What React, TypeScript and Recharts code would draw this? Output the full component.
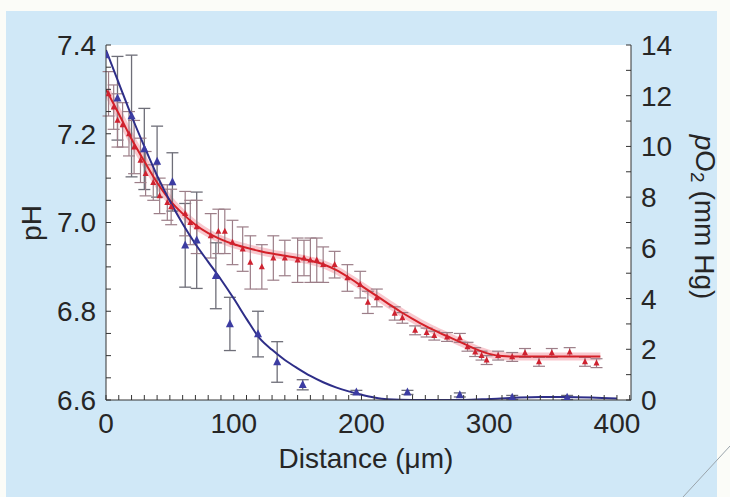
import React from 'react';
import {
  ComposedChart,
  Line,
  Scatter,
  XAxis,
  YAxis,
  CartesianGrid,
  ErrorBar,
} from 'recharts';

const FONT = '"Liberation Sans", Arial, Helvetica, sans-serif';

// measured pH (left axis), distance in µm
const phX = [2, 6, 9, 13, 18, 22, 27, 31, 37, 42, 48, 51, 62, 66, 71, 82, 88, 93, 99, 107, 113, 122, 131, 140, 150, 155, 160, 165, 170, 179, 189, 199, 205, 212, 226, 232, 242, 251, 257, 267, 277, 283, 289, 294, 298, 307, 318, 328, 339, 349, 363, 375, 384];
const phY = [7.29, 7.26, 7.23, 7.22, 7.2, 7.17, 7.14, 7.11, 7.09, 7.06, 7.045, 7.035, 7.02, 7.0, 6.99, 6.97, 6.98, 6.98, 6.955, 6.94, 6.91, 6.9, 6.92, 6.92, 6.915, 6.92, 6.915, 6.915, 6.905, 6.905, 6.875, 6.86, 6.82, 6.83, 6.795, 6.785, 6.757, 6.752, 6.745, 6.742, 6.74, 6.72, 6.708, 6.7, 6.69, 6.7, 6.697, 6.706, 6.686, 6.706, 6.708, 6.686, 6.683];
const phErr = [0.05, 0.05, 0.06, 0.05, 0.05, 0.06, 0.05, 0.05, 0.04, 0.04, 0.04, 0.04, 0.05, 0.05, 0.06, 0.05, 0.05, 0.05, 0.05, 0.05, 0.06, 0.05, 0.05, 0.04, 0.05, 0.04, 0.05, 0.05, 0.04, 0.03, 0.03, 0.03, 0.025, 0.02, 0.015, 0.012, 0.01, 0.01, 0.01, 0.01, 0.01, 0.01, 0.01, 0.01, 0.01, 0.01, 0.01, 0.01, 0.01, 0.01, 0.01, 0.01, 0.01];

// fitted pH curve
const phFitX = [0, 10, 20, 30, 40, 50, 60, 70, 80, 90, 100, 110, 120, 130, 140, 150, 160, 170, 180, 190, 200, 210, 220, 230, 240, 250, 260, 270, 280, 290, 300, 310, 320, 340, 360, 387];
const phFitY = [7.3, 7.245, 7.188, 7.138, 7.09, 7.05, 7.02, 6.995, 6.976, 6.962, 6.951, 6.943, 6.936, 6.93, 6.925, 6.92, 6.914, 6.906, 6.893, 6.876, 6.857, 6.838, 6.819, 6.8, 6.783, 6.767, 6.753, 6.74, 6.727, 6.714, 6.704, 6.699, 6.698, 6.698, 6.698, 6.698];

// measured pO2 (right axis, mm Hg)
const poX = [0, 9, 20, 30, 40, 52, 62, 71, 86, 97, 119, 134, 154, 196, 236, 277, 318, 361];
const poY = [13.6, 11.9, 11.2, 9.9, 9.4, 8.6, 6.1, 6.3, 4.9, 3.0, 2.6, 1.5, 0.6, 0.3, 0.3, 0.2, 0.1, 0.1];
const poErr = [0, 1.65, 2.4, 1.6, 1.4, 1.15, 1.65, 1.9, 1.3, 1.05, 0.9, 0.8, 0.2, 0.08, 0.08, 0.08, 0.08, 0.08];

// fitted pO2 curve
const poFitX = [0, 10, 20, 30, 40, 50, 60, 70, 80, 90, 100, 110, 120, 130, 140, 150, 160, 170, 180, 190, 200, 210, 220, 240, 260, 280, 300, 320, 340, 360, 380, 400];
const poFitY = [13.8, 12.5, 11.2, 10.0, 8.85, 7.85, 6.95, 6.15, 5.45, 4.75, 4.0, 3.2, 2.45, 1.98, 1.58, 1.25, 0.95, 0.7, 0.5, 0.34, 0.21, 0.1, 0.03, 0, 0, 0, 0.04, 0.09, 0.12, 0.12, 0.1, 0.06];

// ticks
const xTicks = [0, 10, 20, 30, 40, 50, 60, 70, 80, 90, 100, 110, 120, 130, 140, 150, 160, 170, 180, 190, 200, 210, 220, 230, 240, 250, 260, 270, 280, 290, 300, 310, 320, 330, 340, 350, 360, 370, 380, 390, 400, 410];
const xLabels = [0, 100, 200, 300, 400];
const phTicks = [6.6, 6.65, 6.7, 6.75, 6.8, 6.85, 6.9, 6.95, 7.0, 7.05, 7.1, 7.15, 7.2, 7.25, 7.3, 7.35, 7.4];
const phLabels = [6.6, 6.8, 7.0, 7.2, 7.4];
const poTicks = [0, 1, 2, 3, 4, 5, 6, 7, 8, 9, 10, 11, 12, 13, 14];
const poLabels = [0, 2, 4, 6, 8, 10, 12, 14];

const phPoints = phX.map((x, i) => ({ x, y: phY[i], err: phErr[i] }));
const phFit = phFitX.map((x, i) => ({ x, y: phFitY[i] }));
const poPoints = poX.map((x, i) => ({ x, y: poY[i], err: poErr[i] }));
const poFit = poFitX.map((x, i) => ({ x, y: poFitY[i] }));

const isLabel = (list: number[], v: number) => list.some((l) => Math.abs(l - v) < 1e-6);

const tickStyle = { fontSize: 28, fill: '#262626', fontFamily: FONT };
const axisStroke = '#333';

// small filled triangle marker
const triangle = (color: string, s: number) => (props: any) => {
  const { cx, cy } = props;
  if (cx == null || cy == null) return <g />;
  return (
    <path
      d={`M${cx},${cy - s * 0.6}L${cx + s / 2},${cy + s * 0.4}L${cx - s / 2},${cy + s * 0.4}Z`}
      fill={color}
    />
  );
};

export default function App() {
  return (
    <div
      style={{
        position: 'absolute',
        left: 0,
        top: 0,
        width: 730,
        height: 497,
        background: '#fbfcf8',
        overflow: 'hidden',
      }}
    >
      <div style={{ position: 'absolute', left: 6, top: 11, width: 711, height: 486, background: '#d0e8f7' }} />
      <div style={{ position: 'absolute', left: 0, top: 0 }}>
        <ComposedChart width={730} height={497} margin={{ top: 45, right: 0, bottom: 37, left: 0 }}>
          <CartesianGrid xAxisId="b" yAxisId="ph" horizontal={false} vertical={false} fill="#ffffff" stroke="none" />
          <XAxis
            xAxisId="b"
            type="number"
            dataKey="x"
            domain={[0, 411]}
            ticks={xTicks}
            interval={0}
            allowDataOverflow
            height={60}
            tickSize={-5}
            tickMargin={18}
            tickFormatter={(v: number) => (isLabel(xLabels, v) ? String(v) : '')}
            tick={tickStyle}
            stroke={axisStroke}
          />
          <XAxis
            xAxisId="t"
            orientation="top"
            type="number"
            dataKey="x"
            domain={[0, 411]}
            ticks={xTicks}
            interval={0}
            allowDataOverflow
            height={0}
            tickSize={-5}
            tick={false}
            stroke={axisStroke}
          />
          <YAxis
            yAxisId="ph"
            type="number"
            domain={[6.6, 7.4]}
            ticks={phTicks}
            interval={0}
            allowDataOverflow
            width={106}
            tickSize={-5}
            tickMargin={15}
            tickFormatter={(v: number) => (isLabel(phLabels, v) ? v.toFixed(1) : '')}
            tick={tickStyle}
            stroke={axisStroke}
          />
          <YAxis
            yAxisId="po"
            orientation="right"
            type="number"
            domain={[0, 14]}
            ticks={poTicks}
            interval={0}
            allowDataOverflow
            width={99}
            tickSize={-5}
            tickMargin={15}
            tickFormatter={(v: number) => (isLabel(poLabels, v) ? String(v) : '')}
            tick={tickStyle}
            stroke={axisStroke}
          />

          {/* pink glow under the pH fit */}
          <Line
            xAxisId="b"
            yAxisId="ph"
            data={phFit}
            dataKey="y"
            type="monotone"
            stroke="#f29aa6"
            strokeOpacity={0.55}
            strokeWidth={8}
            dot={false}
            isAnimationActive={false}
          />
          <Scatter
            xAxisId="t"
            yAxisId="po"
            data={poPoints}
            dataKey="y"
            shape={triangle('#3c3ca2', 8)}
            isAnimationActive={false}
          >
            <ErrorBar dataKey="err" direction="y" width={6} stroke="#6e6e78" strokeWidth={1.3} isAnimationActive={false} />
          </Scatter>
          <Scatter
            xAxisId="b"
            yAxisId="ph"
            data={phPoints}
            dataKey="y"
            shape={triangle('#cf2230', 6)}
            isAnimationActive={false}
          >
            <ErrorBar dataKey="err" direction="y" width={6} stroke="#9c7e88" strokeWidth={1.2} isAnimationActive={false} />
          </Scatter>
          <Line
            xAxisId="b"
            yAxisId="ph"
            data={phFit}
            dataKey="y"
            type="monotone"
            stroke="#d42028"
            strokeWidth={2}
            dot={false}
            isAnimationActive={false}
          />
          <Line
            xAxisId="t"
            yAxisId="po"
            data={poFit}
            dataKey="y"
            type="monotone"
            stroke="#2e2e88"
            strokeWidth={2}
            dot={false}
            isAnimationActive={false}
          />
        </ComposedChart>
      </div>
      <svg
        width={730}
        height={497}
        style={{ position: 'absolute', left: 0, top: 0, pointerEvents: 'none' }}
        fontFamily={FONT}
        fill="#262626"
      >
        <text x={31} y={223} fontSize={28} textAnchor="middle" dominantBaseline="central" transform="rotate(-90 31 223)">
          pH
        </text>
        <text x={705} y={217} fontSize={28} textAnchor="middle" dominantBaseline="central" transform="rotate(90 705 217)">
          <tspan fontStyle="italic">p</tspan>O<tspan fontSize={19} dy={7}>2</tspan>
          <tspan dy={-7}> (mm Hg)</tspan>
        </text>
        <text x={366} y={458} fontSize={28} textAnchor="middle" dominantBaseline="central">
          Distance (μm)
        </text>
        <line x1={683} y1={497} x2={730} y2={446} stroke="#9aa4ab" strokeWidth={1} />
      </svg>
    </div>
  );
}
